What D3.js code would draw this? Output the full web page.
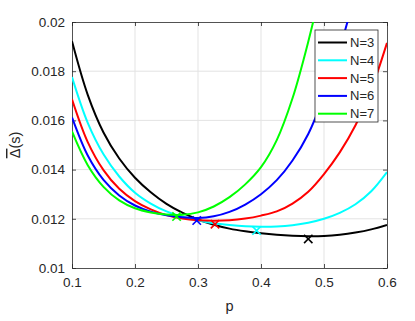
<!DOCTYPE html>
<html lang="en">
<head>
    <meta charset="UTF-8">
    <title>Delta vs p</title>
    <script src="https://d3js.org/d3.v7.min.js"></script>
    <style>
        body { margin: 0; background: #fff; }
        text { font-family: "Liberation Sans", Arial, sans-serif; fill: #262626; }
        .grid line { stroke: #e3e3e3; stroke-width: 1px; }
        .curve { fill: none; stroke-width: 2px; }
    </style>
</head>
<body>
    <svg width="415" height="321"></svg>
    <script>
        // values, one every 0.025 in p
        const pGrid = [0.1, 0.125, 0.15, 0.175, 0.2, 0.225, 0.25, 0.275, 0.3, 0.325, 0.35,
                       0.375, 0.4, 0.425, 0.45, 0.475, 0.5, 0.525, 0.55, 0.575, 0.6];
        const deltaN3 = [0.01922, 0.01704, 0.01551, 0.01445, 0.01367, 0.01308, 0.01261, 0.01225, 0.01197, 0.01176, 0.01160,
                         0.01149, 0.01141, 0.01135, 0.01131, 0.01129, 0.01130, 0.01135, 0.01144, 0.01157, 0.01175];
        const deltaN4 = [0.01776, 0.01590, 0.01462, 0.01372, 0.01306, 0.01262, 0.01230, 0.01208, 0.01193, 0.01182, 0.01175,
                         0.01170, 0.01168, 0.01169, 0.01174, 0.01184, 0.01200, 0.01224, 0.01259, 0.01312, 0.01390];
        const deltaN5 = [0.01686, 0.01512, 0.01398, 0.01322, 0.01272, 0.01238, 0.01215, 0.01201, 0.01194, 0.01192, 0.01194,
                         0.01201, 0.01213, 0.01230, 0.01262, 0.01310, 0.01382, 0.01470, 0.01580, 0.01725, 0.01915];
        const deltaN6 = [0.01612, 0.01457, 0.01358, 0.01295, 0.01254, 0.01229, 0.01214, 0.01206, 0.01203, 0.01210, 0.01228,
                         0.01258, 0.01300, 0.01357, 0.01437, 0.01545, 0.01700, 0.01892, 0.02120, null, null];
        const deltaN7 = [0.01555, 0.01418, 0.01330, 0.01275, 0.01243, 0.01226, 0.01217, 0.01216, 0.01226, 0.01250, 0.01288,
                         0.01340, 0.01410, 0.01520, 0.01690, 0.01920, 0.02190, null, null, null, null];

        const seriesNames = ["N=3", "N=4", "N=5", "N=6", "N=7"];
        const seriesColors = ["#000000", "#00ffff", "#ff0000", "#0000ff", "#00ff00"];
        const seriesValues = [deltaN3, deltaN4, deltaN5, deltaN6, deltaN7];

        // minima marked with x
        const minP = [0.475, 0.393, 0.327, 0.298, 0.266];
        const minDelta = [0.01118, 0.01152, 0.01178, 0.01193, 0.01209];

        const xTicks = [0.1, 0.2, 0.3, 0.4, 0.5, 0.6];
        const yTicks = [0.01, 0.012, 0.014, 0.016, 0.018, 0.02];

        const svg = d3.select("svg");
        const plotL = 72, plotR = 387, plotT = 22, plotB = 268;

        const x = d3.scaleLinear().domain([0.1, 0.6]).range([plotL, plotR]);
        const y = d3.scaleLinear().domain([0.01, 0.02]).range([plotB, plotT]);

        svg.append("defs").append("clipPath").attr("id", "plotClip")
            .append("rect")
            .attr("x", plotL).attr("y", plotT)
            .attr("width", plotR - plotL).attr("height", plotB - plotT);

        // grid
        const grid = svg.append("g").attr("class", "grid");
        grid.selectAll(".gx").data(xTicks.slice(1, -1)).enter().append("line")
            .attr("x1", d => x(d)).attr("x2", d => x(d))
            .attr("y1", plotT).attr("y2", plotB);
        grid.selectAll(".gy").data(yTicks.slice(1, -1)).enter().append("line")
            .attr("x1", plotL).attr("x2", plotR)
            .attr("y1", d => y(d)).attr("y2", d => y(d));

        // axes, ticks inside like matlab
        const tickLen = 4;
        svg.append("g").attr("transform", `translate(0,${plotB})`)
            .call(d3.axisBottom(x).tickValues(xTicks).tickFormat(d3.format("")).tickSizeInner(-tickLen).tickSizeOuter(0).tickPadding(9));
        svg.append("g").attr("transform", `translate(${plotL},0)`)
            .call(d3.axisLeft(y).tickValues(yTicks).tickFormat(d3.format("")).tickSizeInner(-tickLen).tickSizeOuter(0).tickPadding(7));
        svg.append("g").attr("transform", `translate(0,${plotT})`)
            .call(d3.axisTop(x).tickValues(xTicks).tickFormat("").tickSizeInner(-tickLen).tickSizeOuter(0));
        svg.append("g").attr("transform", `translate(${plotR},0)`)
            .call(d3.axisRight(y).tickValues(yTicks).tickFormat("").tickSizeInner(-tickLen).tickSizeOuter(0));

        svg.selectAll(".domain, .tick line").attr("stroke", "#262626").attr("stroke-width", 0.8);
        svg.selectAll(".tick text").attr("font-size", "13.5px")
            .attr("font-family", "'Liberation Sans', Arial, sans-serif").attr("fill", "#262626");

        // curves
        const line = d3.line()
            .defined(d => d[1] != null)
            .x(d => x(d[0]))
            .y(d => y(d[1]))
            .curve(d3.curveCatmullRom.alpha(0.5));

        const curves = svg.append("g").attr("clip-path", "url(#plotClip)");
        seriesValues.forEach((vals, i) => {
            curves.append("path")
                .datum(pGrid.map((p, j) => [p, vals[j]]))
                .attr("class", "curve")
                .attr("stroke", seriesColors[i])
                .attr("d", line);
        });

        // x markers at minima
        const m = 4.2;
        minP.forEach((p, i) => {
            const cx = x(p), cy = y(minDelta[i]);
            const g = svg.append("g").attr("stroke", seriesColors[i]).attr("stroke-width", 1.6);
            g.append("line").attr("x1", cx - m).attr("y1", cy - m).attr("x2", cx + m).attr("y2", cy + m);
            g.append("line").attr("x1", cx - m).attr("y1", cy + m).attr("x2", cx + m).attr("y2", cy - m);
        });

        // legend
        const leg = svg.append("g").attr("transform", "translate(315,30)");
        leg.append("rect").attr("width", 63).attr("height", 92)
            .attr("fill", "#fff").attr("stroke", "#262626").attr("stroke-width", 0.8);
        seriesNames.forEach((name, i) => {
            const ly = 12.5 + i * 17.8;
            leg.append("line").attr("x1", 3).attr("x2", 32).attr("y1", ly).attr("y2", ly)
                .attr("stroke", seriesColors[i]).attr("stroke-width", 2);
            leg.append("text").attr("x", 35).attr("y", ly + 4.5)
                .attr("font-size", "13px").text(name);
        });

        // labels
        svg.append("text").attr("x", (plotL + plotR) / 2).attr("y", 311)
            .attr("text-anchor", "middle").attr("font-size", "14.5px").text("p");

        const yl = svg.append("text")
            .attr("transform", `translate(20,${(plotT + plotB) / 2}) rotate(-90)`)
            .attr("text-anchor", "middle").attr("font-size", "14.5px");
        yl.append("tspan").style("text-decoration", "overline").text("Δ");
        yl.append("tspan").text("(s)");
    </script>
</body>
</html>
